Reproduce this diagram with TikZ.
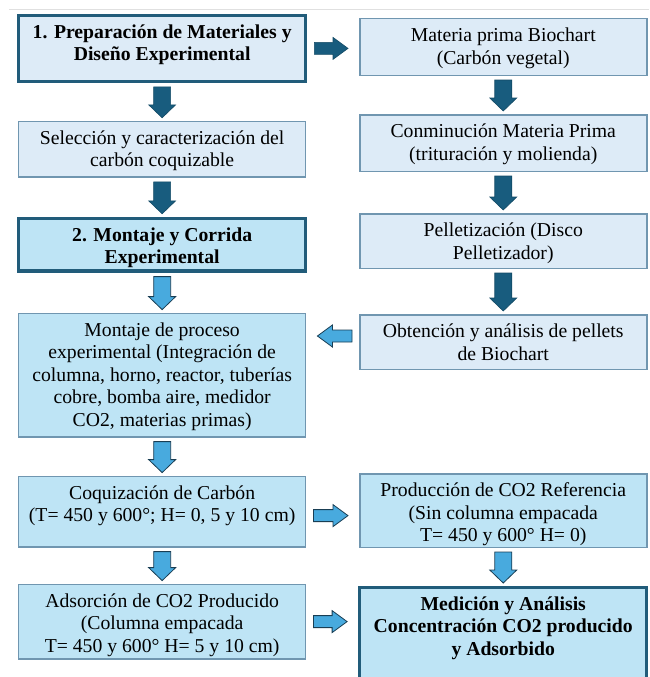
\documentclass[tikz,border=0pt]{standalone}
\usepackage{fontspec}
\setmainfont{Liberation Serif}
\usetikzlibrary{positioning, calc}

\definecolor{paleFill}{RGB}{221,235,247}
\definecolor{lightFill}{RGB}{190,228,245}
\definecolor{thinLine}{RGB}{112,150,176}
\definecolor{thickLine}{RGB}{33,92,122}
\definecolor{darkArrow}{RGB}{24,92,126}
\definecolor{lightArrow}{RGB}{72,170,222}
\definecolor{arrowEdge}{RGB}{25,62,84}

% box text: fixed outer height, set from the top
\newcommand{\cell}[2]{\parbox[c][\dimexpr#1-15.5pt\relax][t]{283pt}{\centering\strut#2}}

\begin{document}
\begin{tikzpicture}[
    x=1pt, y=-1pt,
    every node/.style={font=\fontsize{19.7pt}{22.5pt}\selectfont},
    paleBox/.style={rectangle, draw=thinLine, line width=1.5pt, fill=paleFill, inner xsep=2pt, inner ysep=7pt},
    blueBox/.style={paleBox, fill=lightFill},
    keyBox/.style={draw=thickLine, line width=3.3pt},
    blockarrow/.style n args={5}{to path={
        ($(\tikztostart)!#1!(\tikztotarget)$) coordinate (ba)
        ($(\tikztotarget)!#2!(\tikztostart)$) coordinate (bb)
        ($(bb)!#5!(ba)$) coordinate (bh)
        ($(ba)!#3!90:(bb)$) -- ($(bh)!#3!90:(bb)$) -- ($(bh)!#4!90:(bb)$) -- (bb)
        -- ($(bh)!#4!-90:(bb)$) -- ($(bh)!#3!-90:(bb)$) -- ($(ba)!#3!-90:(bb)$) -- cycle}},
    downArrow/.style={blockarrow={4pt}{3pt}{8.5pt}{13.5pt}{13pt}},
    sideArrow/.style={blockarrow={7pt}{11pt}{6pt}{11pt}{15pt}},
    darkBlock/.style={fill=darkArrow, draw=darkArrow!80!black, line width=0.6pt},
    lightBlock/.style={fill=lightArrow, draw=arrowEdge, line width=0.8pt}
]
\useasboundingbox (0,0) rectangle (649,677);
\draw[black!12, line width=1pt] (9,10) -- (649,10);

% Left column
\node[paleBox, keyBox, anchor=north west] (prepBox) at (17,14)
    {\cell{67pt}{\bfseries 1. Preparación de Materiales y\\Diseño Experimental}};
\node[paleBox, below=38pt of prepBox] (selBox)
    {\cell{57pt}{Selección y caracterización del\\carbón coquizable}};
\node[blueBox, keyBox, below=39pt of selBox] (montBox)
    {\cell{54pt}{\bfseries 2. Montaje y Corrida\\Experimental}};
\node[blueBox, below=40pt of montBox] (procBox)
    {\cell{125pt}{Montaje de proceso\\experimental (Integración de\\columna, horno, reactor, tuberías\\cobre, bomba aire, medidor\\CO2, materias primas)}};
\node[blueBox, below=38pt of procBox] (coqBox)
    {\cell{72pt}{Coquización de Carbón\\(T= 450 y 600°; H= 0, 5 y 10 cm)}};
\node[blueBox, below=36pt of coqBox] (adsBox)
    {\cell{76pt}{Adsorción de CO2 Producido\\(Columna empacada\\T= 450 y 600° H= 5 y 10 cm)}};

% Right column
\node[paleBox, anchor=north west] (matBox) at (359,18)
    {\cell{58pt}{Materia prima Biochart\\(Carbón vegetal)}};
\node[paleBox, below=38pt of matBox] (conmBox)
    {\cell{58pt}{Conminución Materia Prima\\(trituración y molienda)}};
\node[paleBox, below=41pt of conmBox] (pelBox)
    {\cell{56pt}{Pelletización (Disco\\Pelletizador)}};
\node[paleBox, below=45pt of pelBox] (obtBox)
    {\cell{56pt}{Obtención y análisis de pellets\\de Biochart}};
\node[blueBox, below=103pt of obtBox] (prodBox)
    {\cell{75pt}{Producción de CO2 Referencia\\(Sin columna empacada\\T= 450 y 600° H= 0)}};
\node[blueBox, keyBox, below=38pt of prodBox] (medBox)
    {\cell{96pt}{\bfseries Medición y Análisis\\Concentración CO2 producido\\y Adsorbido}};

% Arrows
\draw[darkBlock, sideArrow] (prepBox.east) to (prepBox.east -| matBox.west);
\draw[darkBlock, downArrow] (prepBox.south) to (selBox.north);
\draw[darkBlock, downArrow] (selBox.south) to (montBox.north);
\draw[darkBlock, downArrow] (matBox.south) to (conmBox.north);
\draw[darkBlock, downArrow] (conmBox.south) to (pelBox.north);
\draw[darkBlock, downArrow] (pelBox.south) to (obtBox.north);
\draw[lightBlock, downArrow] (montBox.south) to (procBox.north);
\draw[lightBlock, sideArrow] ($(obtBox.west)+(0,-6)$) to ($(obtBox.west -| procBox.east)+(0,-6)$);
\draw[lightBlock, downArrow] (procBox.south) to (coqBox.north);
\draw[lightBlock, sideArrow] ($(coqBox.east)+(0,4)$) to ($(coqBox.east -| prodBox.west)+(0,4)$);
\draw[lightBlock, downArrow] (coqBox.south) to (adsBox.north);
\draw[lightBlock, downArrow] (prodBox.south) to (medBox.north);
\draw[lightBlock, sideArrow] (adsBox.east) to (adsBox.east -| medBox.west);

\end{tikzpicture}
\end{document}
